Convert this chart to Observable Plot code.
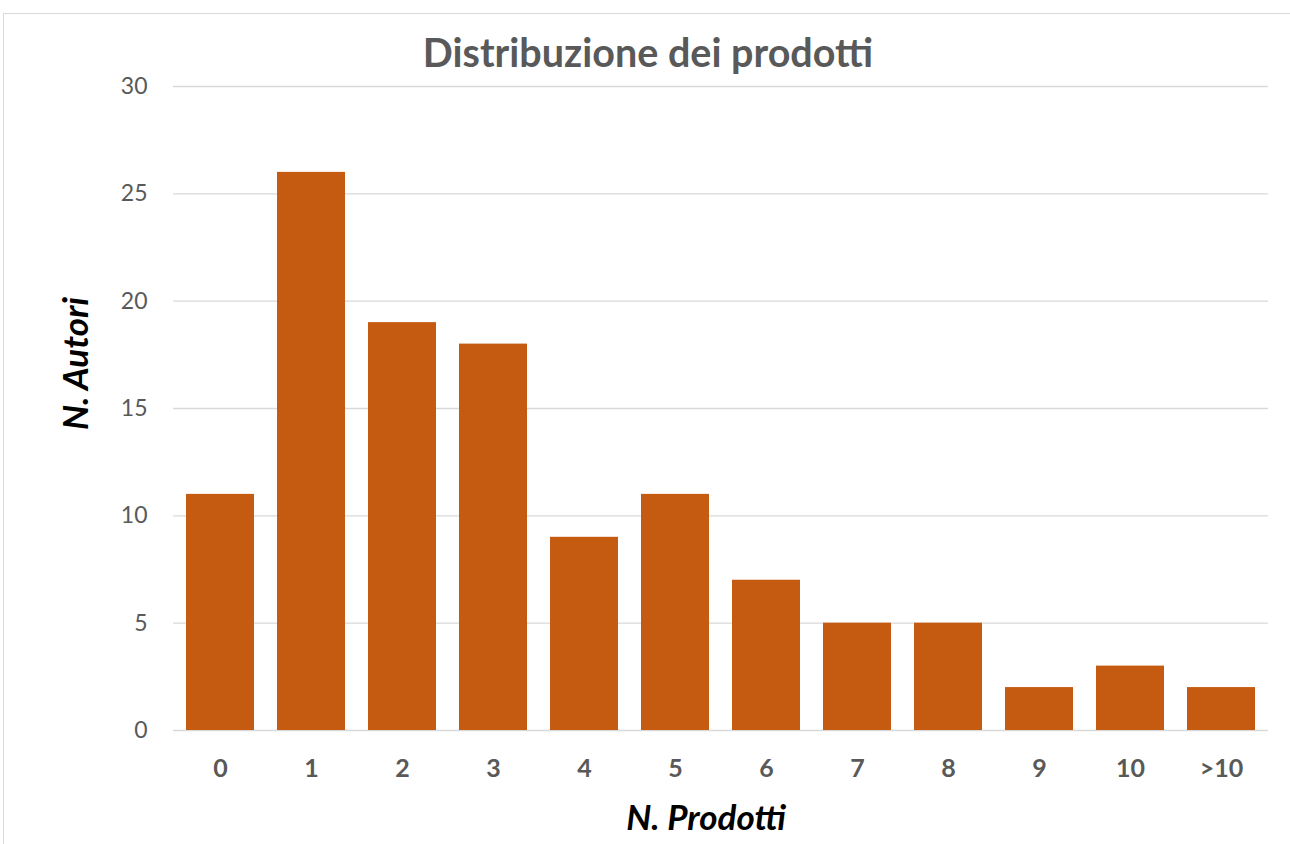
<!DOCTYPE html>
<html>
<head>
<meta charset="utf-8">
<script src="https://cdn.jsdelivr.net/npm/d3@7"></script>
<script src="https://cdn.jsdelivr.net/npm/@observablehq/plot@0.6"></script>
<style>
  html, body { margin: 0; padding: 0; background: #fff; }
  #wrap { position: relative; width: 1290px; height: 844px; overflow: hidden; font-family: Lato, "Open Sans", sans-serif; }
  #frame { position: absolute; left: 3px; top: 13px; width: 1300px; height: 900px; border: 1px solid #d9d9d9; box-sizing: border-box; }
  #title { position: absolute; left: 0; width: 1296px; top: 28px; text-align: center; font-size: 39.5px; line-height: 1.2; font-weight: bold; color: #595959; }
  #chart { position: absolute; left: 0; top: 0; }
</style>
</head>
<body>
<div id="wrap">
  <div id="frame"></div>
  <div id="chart"></div>
  <div id="title">Distribuzione dei prodotti</div>
</div>
<script>
const categories = ["0", "1", "2", "3", "4", "5", "6", "7", "8", "9", "10", ">10"];
const authors = [11, 26, 19, 18, 9, 11, 7, 5, 5, 2, 3, 2];
const yTicks = [0, 5, 10, 15, 20, 25, 30];

const data = categories.map((c, i) => ({ category: c, value: authors[i] }));

const chart = Plot.plot({
  width: 1290,
  height: 844,
  marginLeft: 173,
  marginRight: 22,
  marginTop: 86,
  marginBottom: 114,
  style: { fontFamily: "Lato, 'Open Sans', sans-serif", background: "transparent", overflow: "visible" },
  x: { domain: categories, paddingInner: 0.25, paddingOuter: 0.125, label: null },
  y: { domain: [0, 30], ticks: yTicks, label: null },
  marks: [
    Plot.gridY(yTicks, { stroke: "#d9d9d9", strokeOpacity: 1, strokeWidth: 1.3 }),
    Plot.barY(data, { x: "category", y: "value", fill: "#c55a11" }),
    Plot.axisY(yTicks, { tickSize: 0, tickPadding: 26, fontSize: 23, fill: "#595959", label: null }),
    Plot.axisX({ tickSize: 0, tickPadding: 29, fontSize: 25, fontWeight: "bold", fill: "#595959", label: null }),
    Plot.text(["N. Autori"], { frameAnchor: "left", textAnchor: "middle", lineAnchor: "middle", dx: -97, dy: -45, rotate: -90, fontSize: 35, fontWeight: "bold", fontStyle: "italic", fill: "black" }),
    Plot.text(["N. Prodotti"], { frameAnchor: "bottom", textAnchor: "middle", lineAnchor: "middle", dx: -15, dy: 88, fontSize: 35, fontWeight: "bold", fontStyle: "italic", fill: "black" })
  ]
});
document.getElementById("chart").appendChild(chart);
</script>
</body>
</html>
